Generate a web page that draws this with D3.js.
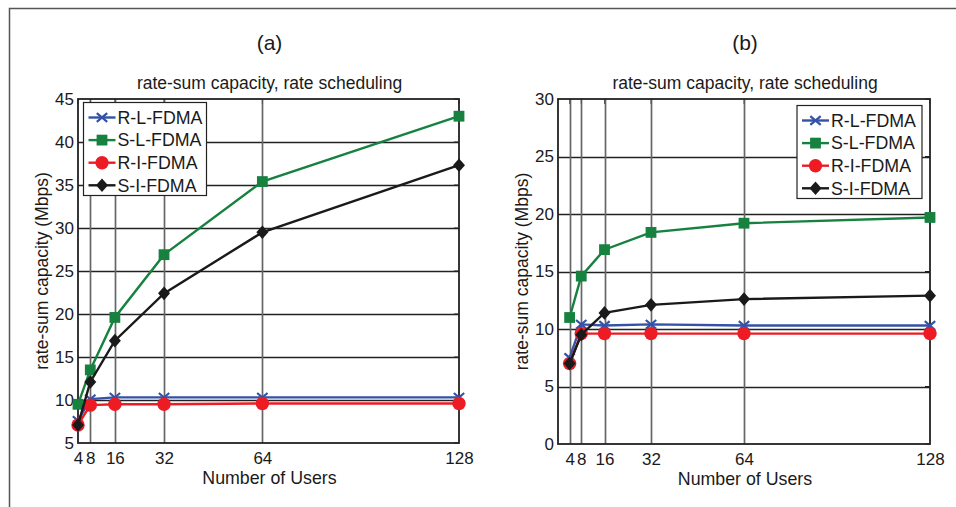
<!DOCTYPE html>
<html><head><meta charset="utf-8">
<script src="https://cdn.jsdelivr.net/npm/d3@7"></script>
<style>
html,body{margin:0;padding:0;background:#fff;}
svg{display:block;font-family:"Liberation Sans",Arial,Helvetica,sans-serif;}
</style></head>
<body>
<svg id="chart" width="956" height="507"></svg>
<script>
// ---- data ----
const users = [4, 8, 16, 32, 64, 128];
const seriesNames = ["R-L-FDMA", "S-L-FDMA", "R-I-FDMA", "S-I-FDMA"];
// panel (a)
const aRL = [7.6, 10.1, 10.3, 10.3, 10.3, 10.3];
const aSL = [9.5, 13.5, 19.6, 26.9, 35.4, 43.0];
const aRI = [7.1, 9.4, 9.5, 9.5, 9.6, 9.6];
const aSI = [7.1, 12.1, 16.9, 22.4, 29.5, 37.3];
// panel (b)
const bRL = [7.5, 10.4, 10.3, 10.4, 10.3, 10.3];
const bSL = [11.0, 14.6, 16.9, 18.4, 19.2, 19.7];
const bRI = [7.0, 9.6, 9.6, 9.6, 9.6, 9.6];
const bSI = [7.0, 9.5, 11.4, 12.1, 12.6, 12.9];
const aYTicks = [5, 10, 15, 20, 25, 30, 35, 40, 45];
const bYTicks = [0, 5, 10, 15, 20, 25, 30];
const xTicks = [4, 8, 16, 32, 64, 128];
const panelLabels = ["(a)", "(b)"];
const plotTitle = "rate-sum capacity, rate scheduling";
const xLabel = "Number of Users";
const yLabel = "rate-sum capacity (Mbps)";

const colors = ["#3352a8", "#17813f", "#ed1c24", "#1a1a1a"];
const markers = ["x", "square", "circle", "diamond"];

const svg = d3.select("#chart");

// outer frame
svg.append("path").attr("d", "M9.5,507 L9.5,8.5 L956,8.5")
  .attr("fill", "none").attr("stroke", "#555").attr("stroke-width", 1.5);

function drawMarker(g, type, x, y, color) {
  if (type === "x") {
    const s = 5.2;
    g.append("path").attr("d", `M${x-s},${y-s*0.85}L${x+s},${y+s*0.85}M${x-s},${y+s*0.85}L${x+s},${y-s*0.85}`)
      .attr("stroke", color).attr("stroke-width", 2.2).attr("fill", "none");
  } else if (type === "square") {
    g.append("rect").attr("x", x-5.4).attr("y", y-5.4).attr("width", 10.8).attr("height", 10.8)
      .attr("fill", color);
  } else if (type === "circle") {
    g.append("circle").attr("cx", x).attr("cy", y).attr("r", 6.7).attr("fill", color);
  } else if (type === "diamond") {
    g.append("path").attr("d", `M${x},${y-6.8}L${x+6},${y}L${x},${y+6.8}L${x-6},${y}Z`)
      .attr("fill", color);
  }
}

function panel(opts) {
  const {left, right, top, bottom, xDomain, yDomain, yTicks, data, label, legend} = opts;
  const x = d3.scaleLinear().domain(xDomain).range([left, right]);
  const y = d3.scaleLinear().domain(yDomain).range([bottom, top]);
  const g = svg.append("g");

  // panel label
  g.append("text").attr("x", (left + right) / 2 + 1).attr("y", 50)
    .attr("text-anchor", "middle").attr("font-size", 21).attr("fill", "#1a1a1a").text(label);
  // title
  g.append("text").attr("x", (left + right) / 2 + 1).attr("y", 89)
    .attr("text-anchor", "middle").attr("font-size", 17.5).attr("fill", "#1a1a1a").text(plotTitle);

  // grid
  g.append("g").selectAll("line").data(yTicks.filter(v => v !== yDomain[0] && v !== yDomain[1]))
    .join("line").attr("x1", left).attr("x2", right)
    .attr("y1", d => Math.round(y(d)) + 0.5).attr("y2", d => Math.round(y(d)) + 0.5)
    .attr("stroke", "#222").attr("stroke-width", 1.3);
  g.append("g").selectAll("line").data(xTicks.filter(v => x(v) > left + 1 && x(v) < right - 1))
    .join("line").attr("y1", top).attr("y2", bottom)
    .attr("x1", d => Math.round(x(d)) + 0.5).attr("x2", d => Math.round(x(d)) + 0.5)
    .attr("stroke", "#666").attr("stroke-width", 1.7);

  // axes with d3
  const xAxis = d3.axisBottom(x).tickValues(xTicks).tickSize(0).tickPadding(9);
  const yAxis = d3.axisLeft(y).tickValues(yTicks).tickSize(0).tickPadding(4);
  const xa = g.append("g").attr("transform", `translate(0,${bottom})`).call(xAxis);
  const ya = g.append("g").attr("transform", `translate(${left},0)`).call(yAxis);
  [xa, ya].forEach(a => {
    a.select(".domain").remove();
    a.selectAll("text").attr("font-size", 17).attr("fill", "#1a1a1a")
      .attr("font-family", "Liberation Sans, Arial, sans-serif");
  });
  // inward ticks on right and top
  g.append("g").selectAll("line").data(yTicks).join("line")
    .attr("x1", right - 5).attr("x2", right).attr("y1", d => y(d)).attr("y2", d => y(d))
    .attr("stroke", "#222");
  g.append("g").selectAll("line").data(xTicks).join("line")
    .attr("x1", d => x(d)).attr("x2", d => x(d)).attr("y1", top).attr("y2", top + 5)
    .attr("stroke", "#555");

  // box
  g.append("rect").attr("x", left).attr("y", top).attr("width", right - left).attr("height", bottom - top)
    .attr("fill", "none").attr("stroke", "#222").attr("stroke-width", 1.8);

  // axis labels
  g.append("text").attr("x", (left + right) / 2 + 1).attr("y", bottom + 41)
    .attr("text-anchor", "middle").attr("font-size", 17.8).attr("fill", "#1a1a1a").text(xLabel);
  g.append("text").attr("transform", `translate(${left - 30},${(top + bottom) / 2}) rotate(-90)`)
    .attr("text-anchor", "middle").attr("font-size", 17.5).attr("fill", "#1a1a1a").text(yLabel);

  // series
  const line = d3.line().x((d, i) => x(users[i])).y(d => y(d));
  data.forEach((vals, si) => {
    g.append("path").datum(vals).attr("d", line)
      .attr("fill", "none").attr("stroke", colors[si]).attr("stroke-width", 2.4);
    vals.forEach((v, i) => drawMarker(g, markers[si], x(users[i]), y(v), colors[si]));
  });

  // legend
  const lg = g.append("g");
  lg.append("rect").attr("x", legend.x).attr("y", legend.y).attr("width", legend.w).attr("height", legend.h)
    .attr("fill", "#fff").attr("stroke", "#222").attr("stroke-width", 1.2);
  seriesNames.forEach((n, si) => {
    const cy = legend.y + 15 + si * 22.6;
    const lx0 = legend.x + 5, lx1 = legend.x + 32;
    lg.append("line").attr("x1", lx0).attr("x2", lx1).attr("y1", cy).attr("y2", cy)
      .attr("stroke", colors[si]).attr("stroke-width", 2.4);
    drawMarker(lg, markers[si], (lx0 + lx1) / 2, cy, colors[si]);
    lg.append("text").attr("x", lx1 + 2).attr("y", cy + 6.3).attr("font-size", 17.8)
      .attr("fill", "#1a1a1a").text(n);
  });
}

panel({left: 78, right: 459, top: 99, bottom: 443, xDomain: [4, 128], yDomain: [5, 45],
  yTicks: aYTicks, data: [aRL, aSL, aRI, aSI], label: panelLabels[0],
  legend: {x: 83.5, y: 102.5, w: 123, h: 93}});
panel({left: 558, right: 930, top: 99, bottom: 444, xDomain: [0, 128], yDomain: [0, 30],
  yTicks: bYTicks, data: [bRL, bSL, bRI, bSI], label: panelLabels[1],
  legend: {x: 797, y: 105.5, w: 125, h: 93}});
</script>
</body></html>
